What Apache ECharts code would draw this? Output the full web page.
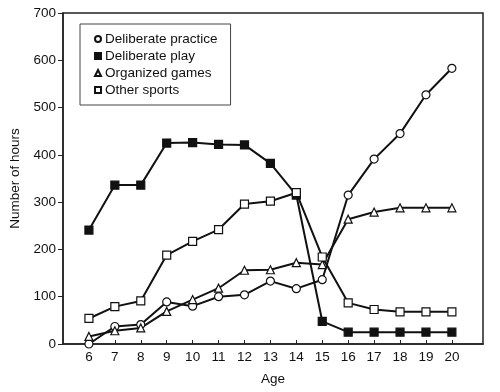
<!DOCTYPE html>
<html><head><meta charset="utf-8">
<script src="https://cdn.jsdelivr.net/npm/echarts@6/dist/echarts.min.js"></script>
<style>html,body{margin:0;padding:0;background:#fff}#c{width:500px;height:392px}</style>
</head><body><div id="c"></div>
<script>
const ages = [6,7,8,9,10,11,12,13,14,15,16,17,18,19,20];
const deliberatePractice = [0,37,41,89,80,100,104,133,117,136,315,391,445,527,583];
const deliberatePlay = [241,336,336,425,426,422,421,382,315,48,25,25,25,25,25];
const organizedGames = [16,28,34,69,94,118,156,157,172,168,264,279,288,288,288];
const otherSports = [54,79,91,188,217,242,296,302,320,184,87,73,68,68,68];
const yTicks = [0,100,200,300,400,500,600,700];

const names = ['Deliberate practice','Deliberate play','Organized games','Other sports'];
const font = 'Liberation Sans, Arial, sans-serif';
function pairs(v){ return ages.map((a,i)=>[a,v[i]]); }
function mk(name, vals, symbol, filled, size){
  return {
    name, type:'line', data:pairs(vals), symbol, symbolSize:size,
    lineStyle:{color:'#111', width:2},
    itemStyle:{color: filled ? '#111' : '#fff', borderColor:'#111', borderWidth:1.2},
    emphasis:{disabled:true}, z: 3
  };
}
const chart = echarts.init(document.getElementById('c'));
chart.setOption({
  animation:false,
  backgroundColor:'#fff',
  grid:{left:60, right:17, top:13, bottom:48, show:true, borderColor:'#222', borderWidth:1.5, backgroundColor:'transparent'},
  legend:{
    orient:'vertical', left:80, top:24,
    padding:[8,13,8,14],
    borderColor:'#444', borderWidth:1, backgroundColor:'#fff',
    itemWidth:6, itemHeight:6, itemGap:3,
    textStyle:{fontFamily:font, fontSize:13.5, color:'#111', padding:[0,0,0,-1]},
    data:[
      {name:names[0], icon:'circle'},
      {name:names[1], icon:'rect'},
      {name:names[2], icon:'triangle'},
      {name:names[3], icon:'rect'}
    ]
  },
  xAxis:{
    type:'value', min:5, max:21.2, interval:1,
    name:'Age', nameLocation:'middle', nameGap:28,
    nameTextStyle:{fontFamily:font, fontSize:13.5, color:'#111'},
    axisLine:{lineStyle:{color:'#222', width:1.5}},
    axisTick:{inside:true, length:4, customValues:ages, lineStyle:{color:'#222'}},
    axisLabel:{customValues:ages, fontFamily:font, fontSize:13.5, color:'#111', margin:6},
    splitLine:{show:false}
  },
  yAxis:{
    type:'value', min:0, max:700, interval:100,
    name:'Number of hours', nameLocation:'middle', nameGap:41,
    nameTextStyle:{fontFamily:font, fontSize:13.5, color:'#111'},
    axisLine:{show:true, lineStyle:{color:'#222', width:1.5}},
    axisTick:{show:true, length:5, customValues:yTicks, lineStyle:{color:'#222'}},
    axisLabel:{customValues:yTicks, fontFamily:font, fontSize:13.5, color:'#111', margin:7},
    splitLine:{show:false}
  },
  series:[
    mk(names[0], deliberatePractice, 'circle', false, 8),
    mk(names[1], deliberatePlay, 'rect', true, 8),
    mk(names[2], organizedGames, 'triangle', false, 8),
    mk(names[3], otherSports, 'rect', false, 8)
  ]
});
</script></body></html>
